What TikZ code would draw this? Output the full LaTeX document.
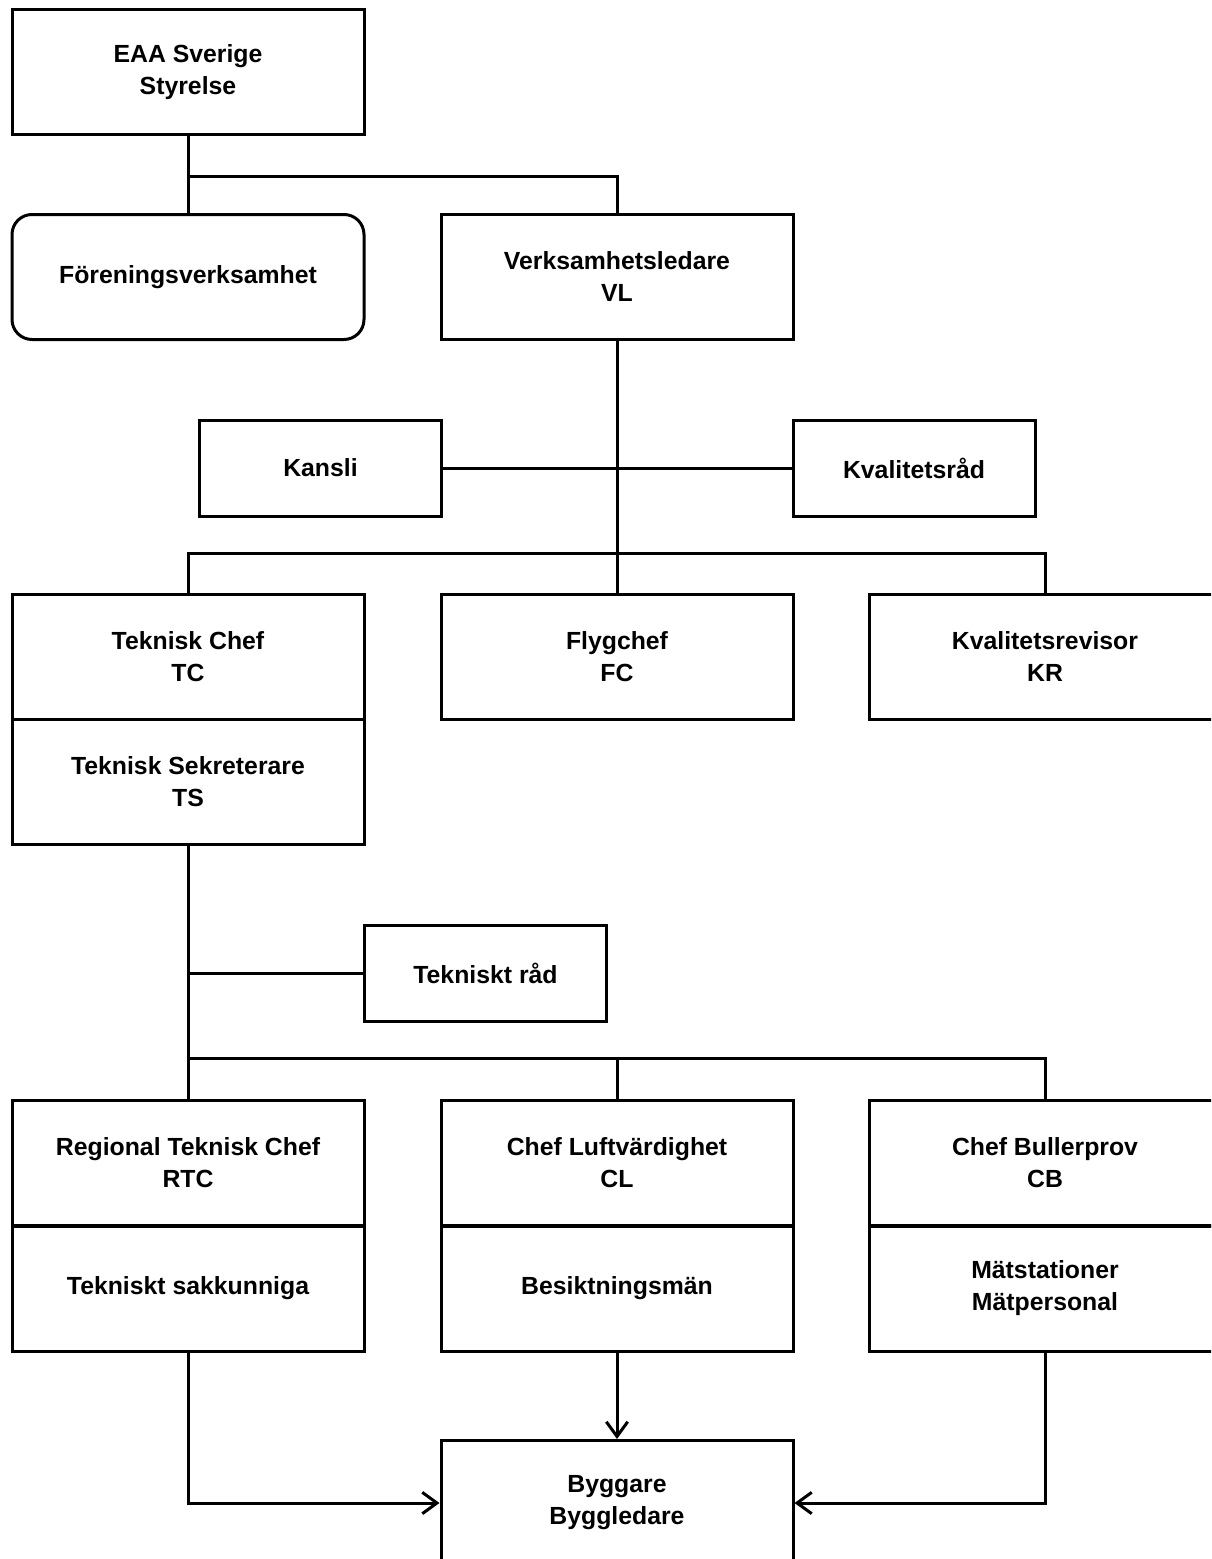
\documentclass[tikz,border=0pt]{standalone}
\usepackage{fontspec}
\setmainfont{Liberation Sans}
\usetikzlibrary{arrows.meta}
\begin{document}
\begin{tikzpicture}[x=0.75pt,y=-0.75pt,
  every node/.style={font=\fontsize{18.6}{24}\selectfont\bfseries, align=center, inner sep=0pt},
  box/.style={draw, line width=2.25pt, minimum width=264pt, minimum height=93.75pt},
  rbox/.style={box, rounded corners=15pt},
  sbox/.style={draw, line width=2.25pt, minimum width=181.5pt, minimum height=72pt},
  con/.style={line width=2.25pt},
  arr/.style={con, -{Straight Barb[length=11pt, width=16pt, line width=2.25pt]}}]
\useasboundingbox (0,0) rectangle (1211,1559);
\clip (0,0) rectangle (1211,1559);
\node[box] (eaa) at (188,72.5) {EAA Sverige\\Styrelse};
\node[rbox] (fv) at (188,277) {Föreningsverksamhet};
\node[box] (vl) at (617,277) {Verksamhetsledare\\VL};
\node[sbox] (kansli) at (320.5,468) {Kansli};
\node[sbox] (kvr) at (914,468) {Kvalitetsråd};
\node[box] (tc) at (188,657) {Teknisk Chef\\TC};
\node[box] (ts) at (188,782) {Teknisk Sekreterare\\TS};
\node[box] (fc) at (617,657) {Flygchef\\FC};
\node[box] (kr) at (1045,657) {Kvalitetsrevisor\\KR};
\node[sbox] (tr) at (485.5,973) {Tekniskt råd};
\node[box] (rtc) at (188,1162.5) {Regional Teknisk Chef\\RTC};
\node[box] (tsak) at (188,1288.5) {Tekniskt sakkunniga};
\node[box] (cl) at (617,1162.5) {Chef Luftvärdighet\\CL};
\node[box] (bes) at (617,1288.5) {Besiktningsmän};
\node[box] (cb) at (1045,1162.5) {Chef Bullerprov\\CB};
\node[box] (mat) at (1045,1288.5) {Mätstationer\\Mätpersonal};
\node[box] (byg) at (617,1503) {Byggare\\Byggledare};
% connectors
\draw[con] (eaa.south) -- (fv.north);
\draw[con] (eaa.south) -- ++(0,40) -| (vl.north);
\draw[con] (vl.south) -- (fc.north);
\draw[con] (kansli.east) -- (kvr.west);
\draw[con] (tc.north) -- ++(0,-40) -| (kr.north);
\draw[con] (ts.south) -- (rtc.north);
\draw[con] (tr.west) -- (tr.west -| ts.south);
\draw[con] (rtc.north) -- ++(0,-40) -| (cb.north);
\draw[con] (cl.north) -- ++(0,-40);
\draw[arr] (tsak.south) |- (byg.west);
\draw[arr] (bes.south) -- (byg.north);
\draw[arr] (mat.south) |- (byg.east);
\end{tikzpicture}
\end{document}
